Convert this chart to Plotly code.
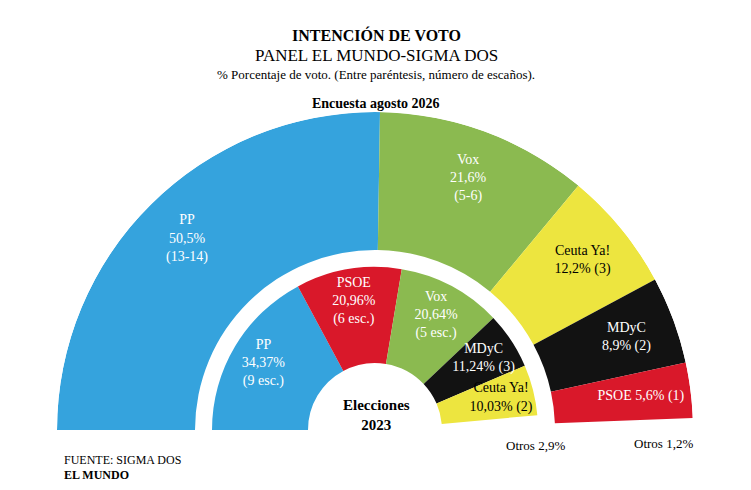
import plotly.graph_objects as go

parties_out = ["PP", "Vox", "Ceuta Ya!", "MDyC", "PSOE", "Otros"]
votes_out = [50.5, 21.6, 12.2, 8.9, 5.6, 1.2]
labels_out = ["PP<br>50,5%<br>(13-14)", "Vox<br>21,6%<br>(5-6)", "Ceuta Ya!<br>12,2% (3)",
              "MDyC<br>8,9% (2)", "PSOE 5,6% (1)", ""]
parties_in = ["PP", "PSOE", "Vox", "MDyC", "Ceuta Ya!", "Otros"]
votes_in = [34.37, 20.96, 20.64, 11.24, 10.03, 2.9]
labels_in = ["PP<br>34,37%<br>(9 esc.)", "PSOE<br>20,96%<br>(6 esc.)", "Vox<br>20,64%<br>(5 esc.)",
             "MDyC<br>11,24% (3)", "Ceuta Ya!<br>10,03% (2)", ""]

colors = {"PP": "#35a3dd", "Vox": "#8bba50", "Ceuta Ya!": "#ede53f", "MDyC": "#121212",
          "PSOE": "#d9182a", "Otros": "rgba(0,0,0,0)"}
textcol = {"PP": "white", "Vox": "white", "Ceuta Ya!": "black", "MDyC": "white",
           "PSOE": "white", "Otros": "black"}

FONT = "Liberation Serif"
W, H, OFF = 735, 474, 8
fig = go.Figure()

def ring(parties, votes, labels, r0, r1, rt):
    tot = sum(votes)
    th, w, cum = [], [], 0
    for v in votes:
        w.append(v / tot * 180)
        th.append((cum + v / 2) / tot * 180)
        cum += v
    fig.add_trace(go.Barpolar(theta=th, width=w, r=[r1 - r0] * len(votes), base=r0,
                              marker=dict(color=[colors[p] for p in parties], line=dict(width=0)),
                              hoverinfo="skip"))
    fig.add_trace(go.Scatterpolar(theta=th, r=[rt] * len(votes), mode="text", text=labels,
                                  textfont=dict(family=FONT, size=14,
                                                color=[textcol[p] for p in parties]),
                                  hoverinfo="skip"))

ring(parties_out, votes_out, labels_out, 180, 318, 268)
ring(parties_in, votes_in, labels_in, 67, 163, 130)

def px(x): return (x - OFF) / W
def py(y): return 1 - (y - OFF) / H

fig.update_layout(
    width=W, height=H, margin=dict(l=0, r=0, t=0, b=0),
    paper_bgcolor="white", showlegend=False,
    polar=dict(
        domain=dict(x=[px(57), px(693)], y=[py(430), py(112)]),
        sector=[0, 180], bgcolor="rgba(0,0,0,0)", hole=0,
        angularaxis=dict(direction="clockwise", rotation=180, visible=False, showgrid=False),
        radialaxis=dict(range=[0, 318], visible=False, showgrid=False),
    ),
    font=dict(family=FONT),
)

def ann(x, y, text, size=14, xanchor="center"):
    fig.add_annotation(x=px(x), y=py(y), xref="paper", yref="paper", text=text,
                       showarrow=False, xanchor=xanchor, yanchor="middle",
                       font=dict(family=FONT, size=size, color="black"))

ann(376, 35, "<b>INTENCIÓN DE VOTO</b>", 16)
ann(376, 55, "PANEL EL MUNDO-SIGMA DOS", 17)
ann(376, 75, "% Porcentaje de voto. (Entre paréntesis, número de escaños).", 13)
ann(376, 103, "<b>Encuesta agosto 2026</b>", 14)
ann(376, 415, "<b>Elecciones<br>2023</b>", 15)
ann(535, 445, "Otros 2,9%", 13)
ann(663, 443, "Otros 1,2%", 13)
ann(62, 460, "FUENTE: SIGMA DOS", 12, "left")
ann(62, 475, "<b>EL MUNDO</b>", 12, "left")

fig.write_html("out.html")
